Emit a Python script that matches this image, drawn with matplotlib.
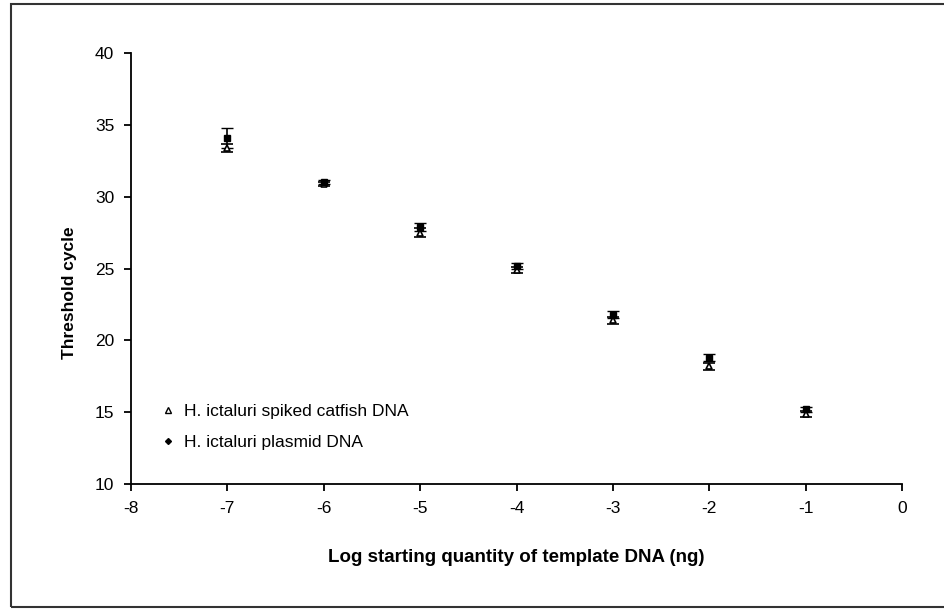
import numpy as np
import matplotlib.pyplot as plt
from matplotlib.patches import Rectangle
from matplotlib.lines import Line2D

plt.rcParams['font.family'] = ['Liberation Sans', 'DejaVu Sans']
plt.rcParams['axes.unicode_minus'] = False

log_qty = [-7, -6, -5, -4, -3, -2, -1]
spiked_ct = [33.4, 30.9, 27.5, 24.9, 21.4, 18.2, 14.9]
spiked_err = [0.3, 0.15, 0.3, 0.2, 0.25, 0.25, 0.2]
plasmid_ct = [34.1, 31.0, 27.9, 25.2, 21.8, 18.8, 15.2]
plasmid_err = [0.7, 0.15, 0.3, 0.2, 0.25, 0.25, 0.2]
labels = ['H. ictaluri spiked catfish DNA', 'H. ictaluri plasmid DNA']

fig = plt.figure(figsize=(9.45, 6.09), dpi=100)
ax = fig.add_axes([0.1386, 0.205, 0.816, 0.708])

ax.errorbar(log_qty, spiked_ct, yerr=spiked_err, fmt='^', color='black',
            mfc='white', mec='black', ms=5, mew=1.2, capsize=4, elinewidth=1.2)
ax.errorbar(log_qty, plasmid_ct, yerr=plasmid_err, fmt='s', color='black',
            ms=5, capsize=4, elinewidth=1.2)

ax.set_xlim(-8, 0)
ax.set_ylim(10, 40)
ax.set_xticks(range(-8, 1))
ax.set_yticks(range(10, 41, 5))
ax.spines['top'].set_visible(False)
ax.spines['right'].set_visible(False)
ax.spines['left'].set_linewidth(1.3)
ax.spines['bottom'].set_linewidth(1.3)
ax.tick_params(labelsize=12.5, length=5, width=1.3, pad=7)
ax.set_xlabel('Log starting quantity of template DNA (ng)', fontsize=13.5,
              fontweight='bold', labelpad=24)
ax.set_ylabel('Threshold cycle', fontsize=12.5, fontweight='bold')
ax.yaxis.set_label_coords(-0.07, 0.443)

handles = [
    Line2D([], [], ls='none', marker='^', mfc='white', mec='black', ms=4, mew=1),
    Line2D([], [], ls='none', marker='D', color='black', ms=3),
]
ax.legend(handles, labels, loc='lower left', bbox_to_anchor=(0.021, 0.043),
          frameon=False, fontsize=12.5, handlelength=0.6, handletextpad=0.6,
          labelspacing=0.9)

fig.patches.append(Rectangle((11 / 945, 2 / 609), 1.0, 1 - 6 / 609,
                             transform=fig.transFigure, fill=False,
                             edgecolor='#333333', linewidth=1.5))

fig.savefig('out.png', dpi=100)
